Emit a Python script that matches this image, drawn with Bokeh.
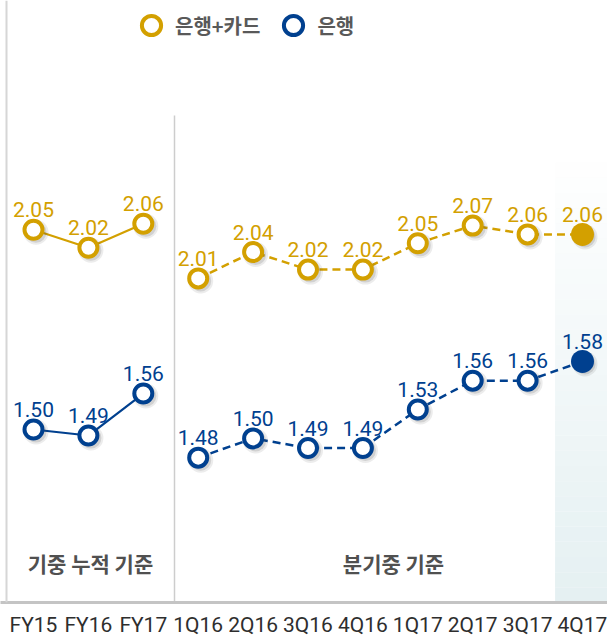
from bokeh.plotting import figure
from bokeh.models import (Range1d, Legend, LegendItem, ColumnDataSource, Span,
                          FixedTicker)
from bokeh.transform import dodge
from bokeh.core.properties import value
from bokeh.embed import file_html
from bokeh.resources import INLINE

# ---------------- data ----------------
categories = ["FY15", "FY16", "FY17", "1Q16", "2Q16", "3Q16", "4Q16",
              "1Q17", "2Q17", "3Q17", "4Q17"]
bank_card = [2.05, 2.02, 2.06, 2.01, 2.04, 2.02, 2.02, 2.05, 2.07, 2.06, 2.06]
bank = [1.50, 1.49, 1.56, 1.48, 1.50, 1.49, 1.49, 1.53, 1.56, 1.56, 1.58]
series_names = ["은행+카드", "은행"]
section_labels = ["기중 누적 기준", "분기중 기준"]
n_annual = 3  # first three categories are cumulative annual values

# ---------------- style ----------------
GOLD = "#D3A000"
BLUE = "#00408F"
NUM_FONT = "Roboto"
KR_FONT = "Noto Sans CJK KR"

FRAME_W, FRAME_H = 607, 602
STEP = 54.9
X0, X1 = -33 / STEP, 10 + 25 / STEP

p = figure(frame_width=FRAME_W, frame_height=FRAME_H, output_backend="svg",
           toolbar_location=None, x_range=Range1d(X0, X1),
           y_range=Range1d(0, FRAME_H), y_axis_location=None,
           min_border=0)
p.outline_line_color = None
p.xgrid.visible = False
p.ygrid.visible = False
p.background_fill_color = "white"
p.border_fill_color = "white"

# separate value scales (broken-axis chart: each block/series has its own scale)
p.extra_y_ranges = {
    "gold_a": Range1d(1.4288, 2.4321),
    "blue_a": Range1d(1.2117, 2.2150),
    "gold_q": Range1d(1.6417, 2.3258),
    "blue_q": Range1d(1.3294, 1.9552),
}
px_per_unit = {"gold_a": 600, "blue_a": 600, "gold_q": 880, "blue_q": 962}

# shaded background for latest quarter (vertical gradient)
nb = 30
top_px = 455
for i in range(nb):
    b = top_px * i / nb
    t = top_px * (i + 1) / nb
    p.quad(left=9.5, right=X1, bottom=b, top=t, fill_color="#E3EFF1",
           fill_alpha=(1 - (i + 0.5) / nb) * 0.95, line_color=None)

# frame decorations
p.add_layout(Span(location=-27 / STEP, dimension="height",
                  line_color="#D6D6D6", line_width=2))
p.segment(x0=[141 / STEP], y0=[0], x1=[141 / STEP], y1=[487],
          line_color="#CDCDCD", line_width=1.5)

# x axis
xs = list(range(len(categories)))
p.xaxis.ticker = FixedTicker(ticks=xs)
p.xaxis.major_label_overrides = {i: c for i, c in enumerate(categories)}
p.xaxis.axis_line_color = "#C4C4C4"
p.xaxis.axis_line_width = 3
p.xaxis.major_tick_line_color = None
p.xaxis.minor_tick_line_color = None
p.xaxis.major_label_standoff = 4
p.xaxis.major_label_text_font = NUM_FONT
p.xaxis.major_label_text_font_size = "21px"
p.xaxis.major_label_text_color = "#2E2E2E"


def draw_block(vals, idx, color, rng, dash, filled_last):
    xv = [xs[i] for i in idx]
    yv = [vals[i] for i in idx]
    src = ColumnDataSource(dict(x=xv, y=yv, t=["%.2f" % v for v in yv]))
    p.line("x", "y", source=src, y_range_name=rng, line_color=color,
           line_width=2.2 if dash == "solid" else 2.5, line_dash=dash)
    dx = 2.5 / STEP
    dy = -2.5 / px_per_unit[rng]
    for sz, a in ((25, 0.10), (21, 0.16)):
        p.scatter(x=dodge("x", dx), y=dodge("y", dy), source=src,
                  y_range_name=rng, size=sz, fill_color="#444444",
                  fill_alpha=a, line_color=None)
    if filled_last:
        open_src = ColumnDataSource(dict(x=xv[:-1], y=yv[:-1]))
        fill_src = ColumnDataSource(dict(x=xv[-1:], y=yv[-1:]))
        r = p.scatter("x", "y", source=open_src, y_range_name=rng, size=18,
                      fill_color="white", line_color=color, line_width=4)
        p.scatter("x", "y", source=fill_src, y_range_name=rng, size=23,
                  fill_color=color, line_color=None)
    else:
        r = p.scatter("x", "y", source=src, y_range_name=rng, size=18,
                      fill_color="white", line_color=color, line_width=4)
    p.text("x", "y", text="t", source=src, y_range_name=rng,
           text_align="center", text_baseline="alphabetic", y_offset=-20,
           text_font=value(NUM_FONT), text_font_size="21px", text_color=color)
    return r


annual_idx = list(range(0, n_annual))
quarter_idx = list(range(n_annual, len(categories)))
draw_block(bank_card, annual_idx, GOLD, "gold_a", "solid", False)
draw_block(bank, annual_idx, BLUE, "blue_a", "solid", False)
r_gold = draw_block(bank_card, quarter_idx, GOLD, "gold_q", "8 5", True)
r_blue = draw_block(bank, quarter_idx, BLUE, "blue_q", "8 5", True)

# section captions
cap_src = ColumnDataSource(dict(x=[57 / STEP, 360 / STEP], y=[40, 40],
                                t=section_labels))
p.text("x", "y", text="t", source=cap_src, text_align="center",
       text_baseline="middle", text_font=value(KR_FONT),
       text_font_size="21px", text_font_style="bold", text_color="#505050")

# legend
legend = Legend(items=[LegendItem(label=series_names[0], renderers=[r_gold]),
                       LegendItem(label=series_names[1], renderers=[r_blue])],
                location=(127, 553), orientation="horizontal",
                glyph_width=48, glyph_height=48, label_standoff=0,
                spacing=9, padding=0, margin=0,
                background_fill_alpha=0, border_line_alpha=0,
                label_text_font=KR_FONT, label_text_font_size="20px",
                label_text_font_style="bold", label_text_color="#595959")
p.add_layout(legend)

open("out.html", "w").write(file_html(p, INLINE))
